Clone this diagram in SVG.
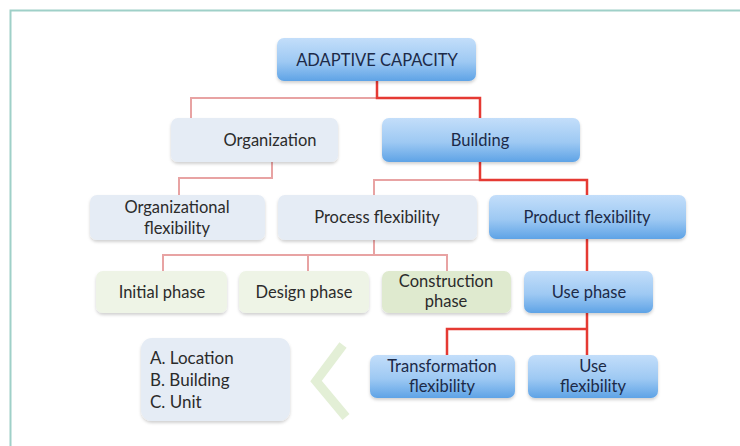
<svg xmlns="http://www.w3.org/2000/svg" width="740" height="446" viewBox="0 0 740 446">
<defs>
<linearGradient id="gBlue" x1="0" y1="0" x2="0" y2="1">
<stop offset="0" stop-color="#c3defa"/>
<stop offset="0.55" stop-color="#9ec9f3"/>
<stop offset="1" stop-color="#5ea3e6"/>
</linearGradient>
<filter id="sh" x="-10%" y="-10%" width="120%" height="140%">
<feDropShadow dx="0" dy="2" stdDeviation="1.5" flood-color="#000" flood-opacity="0.18"/>
</filter>
<style>
.t{font-family:Lato,"Open Sans","Liberation Sans",sans-serif;font-size:16.5px;fill:#2b2b2b;text-anchor:middle}
.tb{fill:#1c2a48}
.blue{fill:url(#gBlue);filter:url(#sh)}
.gray{fill:#e5ecf5;filter:url(#sh)}
.lg{fill:#eef4e6;filter:url(#sh)}
.dg{fill:#dfeacf;filter:url(#sh)}
.red{fill:none;stroke:#e53a33;stroke-width:2.5}
.pink{fill:none;stroke:#e8a3a3;stroke-width:2}
</style>
</defs>
<rect x="0" y="0" width="740" height="446" fill="#fff"/>
<path d="M10.5 446 V10.5 H740" fill="none" stroke="#9fd0c8" stroke-width="2"/>
<g id="connectors">
<path class="pink" d="M377 98 H191 V118"/>
<path class="pink" d="M272 162 V178 H179 V195"/>
<path class="pink" d="M480 180 H374 V195"/>
<path class="pink" d="M374 240 V255 M163 271 V255 H447 V271 M308 255 V271"/>
<path class="red" d="M377 81 V98 H480 V118"/>
<path class="red" d="M480 162 V180 H587 V195"/>
<path class="red" d="M587 239 V271"/>
<path class="red" d="M587 313 V355 M587 329 H447 V355"/>
</g>
<g id="adaptive"><rect class="blue" x="277" y="38" width="199" height="43" rx="7"/><text class="t tb" x="377" y="65.5">ADAPTIVE CAPACITY</text></g>
<g id="organization"><rect class="gray" x="171" y="118" width="167" height="44" rx="7"/><text class="t" x="270" y="145.5">Organization</text></g>
<g id="building"><rect class="blue" x="382" y="118" width="198" height="44" rx="7"/><text class="t tb" x="480" y="145.5">Building</text></g>
<g id="orgflex"><rect class="gray" x="90" y="195" width="175" height="45" rx="7"/><text class="t" x="177" y="213">Organizational</text><text class="t" x="177" y="234">flexibility</text></g>
<g id="procflex"><rect class="gray" x="278" y="195" width="199" height="45" rx="7"/><text class="t" x="377" y="223">Process flexibility</text></g>
<g id="prodflex"><rect class="blue" x="489" y="195" width="197" height="44" rx="7"/><text class="t tb" x="587" y="222.5">Product flexibility</text></g>
<g id="initial"><rect class="lg" x="96" y="271" width="131" height="42" rx="7"/><text class="t" x="162" y="298">Initial phase</text></g>
<g id="design"><rect class="lg" x="239" y="271" width="130" height="42" rx="7"/><text class="t" x="304" y="298">Design phase</text></g>
<g id="construction"><rect class="dg" x="382" y="271" width="129" height="42" rx="7"/><text class="t" x="446" y="287">Construction</text><text class="t" x="446" y="307">phase</text></g>
<g id="usephase"><rect class="blue" x="524" y="271" width="129" height="42" rx="7"/><text class="t tb" x="589" y="298">Use phase</text></g>
<g id="transflex"><rect class="blue" x="370" y="355" width="145" height="43" rx="7"/><text class="t tb" x="442" y="372">Transformation</text><text class="t tb" x="442" y="392">flexibility</text></g>
<g id="useflex"><rect class="blue" x="528" y="355" width="130" height="43" rx="7"/><text class="t tb" x="593" y="372">Use</text><text class="t tb" x="593" y="392">flexibility</text></g>
<g id="levels"><rect class="gray" x="141" y="338" width="149" height="83" rx="11"/>
<text class="t" style="text-anchor:start;font-size:17px" x="150" y="364">A. Location</text>
<text class="t" style="text-anchor:start;font-size:17px" x="150" y="386">B. Building</text>
<text class="t" style="text-anchor:start;font-size:17px" x="150" y="408">C. Unit</text></g>
<g id="chevron"><polyline points="343,345 316,381 346,417" fill="none" stroke="#e3efd6" stroke-width="9" stroke-linejoin="miter"/></g>
</svg>
